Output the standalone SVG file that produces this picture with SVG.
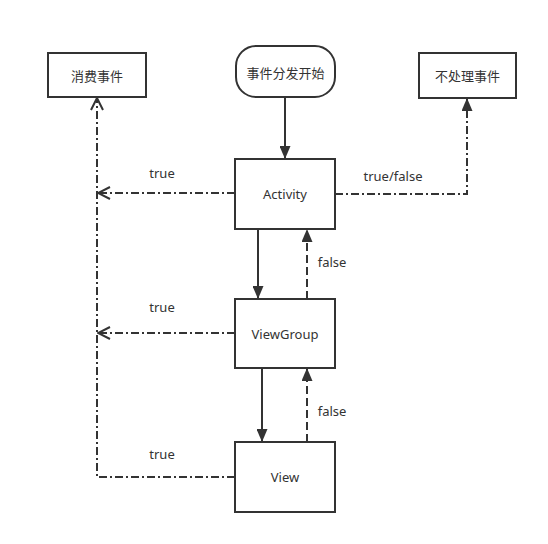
<svg xmlns="http://www.w3.org/2000/svg" width="548" height="544" viewBox="0 0 548 544">
<style>
.box{fill:#fff;stroke:#333;stroke-width:2}
.t{font-family:"Noto Sans","Noto Sans CJK SC",sans-serif;font-size:13px;fill:#333;text-anchor:middle;dominant-baseline:central}
.c{font-family:"Noto Sans CJK SC","Noto Sans",sans-serif}
.solid{fill:none;stroke:#333;stroke-width:2}
.dash{fill:none;stroke:#333;stroke-width:2;stroke-dasharray:8 4}
.dd{fill:none;stroke:#333;stroke-width:2;stroke-dasharray:8 3 2 3}
</style>
<defs>
<marker id="fill" markerWidth="13" markerHeight="11" refX="12" refY="5.5" orient="auto" markerUnits="userSpaceOnUse" viewBox="0 0 13 11">
<path d="M0,0 L13,5.5 L0,11 Z" fill="#333"/>
</marker>
<marker id="open" markerWidth="14" markerHeight="14" refX="13" refY="7" orient="auto" markerUnits="userSpaceOnUse" viewBox="0 0 14 14">
<path d="M1,1 L13,7 L1,13" fill="none" stroke="#333" stroke-width="2"/>
</marker>
</defs>
<rect width="548" height="544" fill="#fff"/>
<g id="connectors">
<path class="solid" d="M285,97 L285,158" marker-end="url(#fill)"/>
<path class="solid" d="M258,229 L258,298" marker-end="url(#fill)"/>
<path class="dash" d="M307,299 L307,230" marker-end="url(#fill)"/>
<path class="solid" d="M262,368 L262,441" marker-end="url(#fill)"/>
<path class="dash" d="M307,442 L307,369" marker-end="url(#fill)"/>
<path class="dd" d="M235,193 L98,193" marker-end="url(#open)"/>
<path class="dd" d="M235,333 L98,333" marker-end="url(#open)"/>
<path class="dd" d="M235,477 L97,477 L97,98" marker-end="url(#open)"/>
<path class="dd" d="M335,194 L467,194 L467,99" marker-end="url(#fill)"/>
<text class="t" x="162" y="173">true</text>
<text class="t" x="162" y="307">true</text>
<text class="t" x="162" y="454">true</text>
<text class="t" x="393" y="176">true/false</text>
<text class="t" x="332" y="262">false</text>
<text class="t" x="332" y="411">false</text>
</g>
<g id="start">
<rect class="box" x="236" y="46" width="99" height="51" rx="20"/>
<text class="t c" x="285.5" y="72">事件分发开始</text>
</g>
<g id="consume">
<rect class="box" x="48" y="53" width="98" height="44"/>
<text class="t c" x="97" y="75">消费事件</text>
</g>
<g id="noconsume">
<rect class="box" x="419" y="53" width="97" height="45"/>
<text class="t c" x="467.5" y="75">不处理事件</text>
</g>
<g id="activity">
<rect class="box" x="235" y="159" width="100" height="70"/>
<text class="t" x="285" y="194">Activity</text>
</g>
<g id="viewgroup">
<rect class="box" x="235" y="299" width="100" height="69"/>
<text class="t" x="285" y="334">ViewGroup</text>
</g>
<g id="view">
<rect class="box" x="235" y="442" width="100" height="70"/>
<text class="t" x="285" y="477">View</text>
</g>
</svg>
